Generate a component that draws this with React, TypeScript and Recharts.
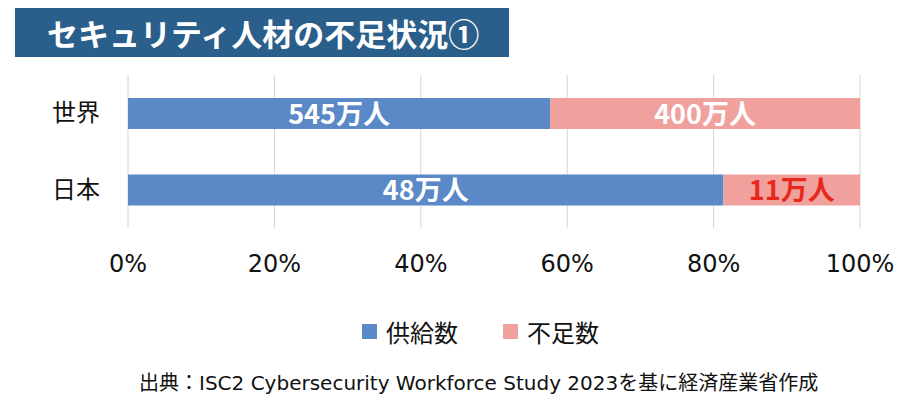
import React from 'react';
import { BarChart, Bar, XAxis, YAxis, CartesianGrid, LabelList } from 'recharts';

const regions = ['世界', '日本'];
const supply = [545, 48]; // 万人
const shortage = [400, 11]; // 万人
const xTicks = [0, 0.2, 0.4, 0.6, 0.8, 1];
const seriesNames = ['供給数', '不足数'];

const BLUE = '#5b89c7';
const PINK = '#f0a19d';
const RED = '#e8271d';
const JP = "'Noto Sans CJK JP', sans-serif";
const NUM = "'DejaVu Sans', 'Noto Sans CJK JP', sans-serif";

const chartData = regions.map((name, i) => ({
  name,
  supply: supply[i],
  shortage: shortage[i],
}));

const XTick = ({ x, y, payload }: any) => (
  <text x={x} y={y} dy={36} textAnchor="middle" fontSize={24} fontFamily={NUM} fill="#111">
    {`${Math.round(payload.value * 100)}%`}
  </text>
);

const YTick = ({ y, payload }: any) => (
  <text x={100} y={y} dy={8} textAnchor="end" fontSize={24} fontFamily={JP} fill="#111">
    {payload.value}
  </text>
);

const makeLabel = (highlightIndex: number | null) => (props: any) => {
  const { x, y, width, height, value, index } = props;
  const fill = index === highlightIndex ? RED : '#fff';
  return (
    <text
      x={x + width / 2}
      y={y + height / 2}
      dy={10}
      textAnchor="middle"
      fontSize={27}
      fontWeight="bold"
      fontFamily={JP}
      fill={fill}
    >
      {`${value}万人`}
    </text>
  );
};

const App: React.FC = () => {
  return (
    <div style={{ position: 'absolute', left: 0, top: 0, width: 903, height: 396, background: '#fff' }}>
      <div
        style={{
          position: 'absolute',
          left: 15,
          top: 8,
          width: 494,
          height: 49,
          background: '#2b5f8b',
          color: '#fff',
          fontFamily: JP,
          fontWeight: 'bold',
          fontSize: 31,
          lineHeight: '49px',
          paddingLeft: 32,
          boxSizing: 'border-box',
          whiteSpace: 'nowrap',
        }}
      >
        セキュリティ人材の不足状況①
      </div>
      <BarChart
        width={903}
        height={396}
        data={chartData}
        layout="vertical"
        stackOffset="expand"
        barSize={31}
        margin={{ top: 75, right: 43, bottom: 138, left: 0 }}
      >
        <CartesianGrid horizontal={false} vertical stroke="#d4d4d4" />
        <XAxis
          type="number"
          domain={[0, 1]}
          ticks={xTicks}
          axisLine={false}
          tickLine={false}
          tick={<XTick />}
          height={30}
          interval={0}
        />
        <YAxis type="category" dataKey="name" width={128} axisLine={false} tickLine={false} tick={<YTick />} />
        <Bar dataKey="supply" name={seriesNames[0]} stackId="a" fill={BLUE} isAnimationActive={false}>
          <LabelList dataKey="supply" content={makeLabel(null)} />
        </Bar>
        <Bar dataKey="shortage" name={seriesNames[1]} stackId="a" fill={PINK} isAnimationActive={false}>
          <LabelList dataKey="shortage" content={makeLabel(1)} />
        </Bar>
      </BarChart>
      {/* 凡例 */}
      <div
        style={{
          position: 'absolute',
          left: 362,
          top: 314,
          height: 34,
          display: 'flex',
          alignItems: 'center',
          fontFamily: JP,
          fontSize: 24,
          color: '#111',
        }}
      >
        {[BLUE, PINK].map((c, i) => (
          <div key={i} style={{ display: 'flex', alignItems: 'center', marginRight: i === 0 ? 45 : 0 }}>
            <div style={{ width: 15, height: 15, background: c, marginRight: 9 }} />
            <span>{seriesNames[i]}</span>
          </div>
        ))}
      </div>
      <div
        style={{
          position: 'absolute',
          left: 139,
          top: 370,
          fontFamily: NUM,
          fontSize: 20,
          lineHeight: '26px',
          color: '#111',
          whiteSpace: 'nowrap',
        }}
      >
        出典：ISC2 Cybersecurity Workforce Study 2023を基に経済産業省作成
      </div>
    </div>
  );
};

export default App;
